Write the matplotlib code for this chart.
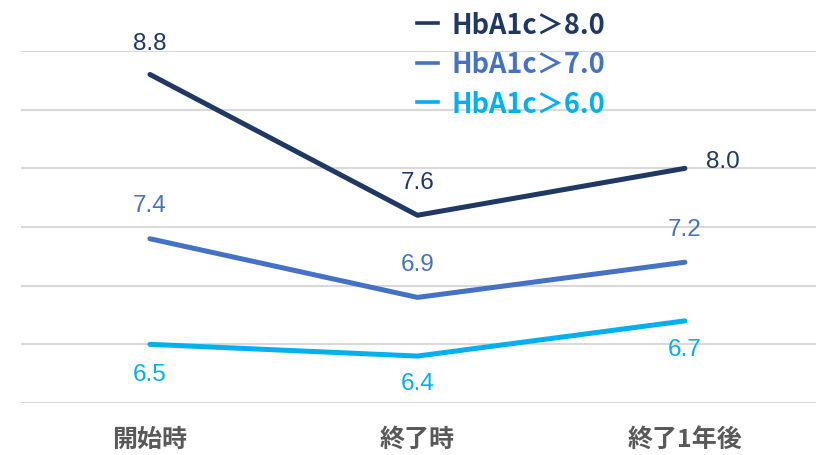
import matplotlib.pyplot as plt
from matplotlib.lines import Line2D

plt.rcParams['font.family'] = ['Noto Sans CJK JP', 'DejaVu Sans']

# data
categories = ['開始時', '終了時', '終了1年後']
series_names = ['HbA1c＞8.0', 'HbA1c＞7.0', 'HbA1c＞6.0']
hba1c_over_8 = [8.8, 7.6, 8.0]
hba1c_over_7 = [7.4, 6.9, 7.2]
hba1c_over_6 = [6.5, 6.4, 6.7]

colors = ['#203864', '#4472C4', '#00B0F0']
# label placement per point, in pixels: (dx, dy)
offsets = [
    [(0, 31), (0, 33), (38, 7)],
    [(0, 34), (0, 33), (0, 33)],
    [(0, -30), (0, -27), (0, -28)],
]

fig = plt.figure(figsize=(8.16, 4.56), dpi=100)
ax = fig.add_axes([21 / 816, (456 - 404) / 456, 795 / 816, 352 / 456])

x = range(len(categories))
all_series = [hba1c_over_8, hba1c_over_7, hba1c_over_6]
for vals, col, name, offs in zip(all_series, colors, series_names, offsets):
    ax.plot(x, vals, color=col, linewidth=3.6, solid_capstyle='round', label=name, zorder=3)
    for xi, v, (dx, dy) in zip(x, vals, offs):
        ax.annotate(f'{v:.1f}', (xi, v), xytext=(dx * 0.72, dy * 0.72), textcoords='offset points',
                    ha='center', va='center', fontsize=17.5, color=col, family=['Liberation Sans'])

ax.set_ylim(6.0, 9.0)
ax.set_yticks([6.0, 6.5, 7.0, 7.5, 8.0, 8.5, 9.0])
ax.set_xlim(-0.482, 2.49)
ax.grid(axis='y', color='#D9D9D9', linewidth=1.5)
ax.set_axisbelow(True)
ax.tick_params(axis='y', left=False, labelleft=False)
ax.tick_params(axis='x', length=0, pad=17)
ax.set_xticks(list(x))
ax.set_xticklabels(categories, fontsize=18, fontweight='bold', color='#595959')
for s in ax.spines.values():
    s.set_visible(False)

handles = [Line2D([0], [0], color=c, linewidth=2.6) for c in colors]
leg = fig.legend(handles, series_names, loc='upper left', bbox_to_anchor=(401 / 816, 1.01),
                 frameon=False, handlelength=0.75, handletextpad=0.5, labelspacing=0.42,
                 prop={'size': 19.5, 'weight': 'bold'}, borderaxespad=0.2)
for t, c in zip(leg.get_texts(), colors):
    t.set_color(c)

fig.savefig('out.png', dpi=100)
